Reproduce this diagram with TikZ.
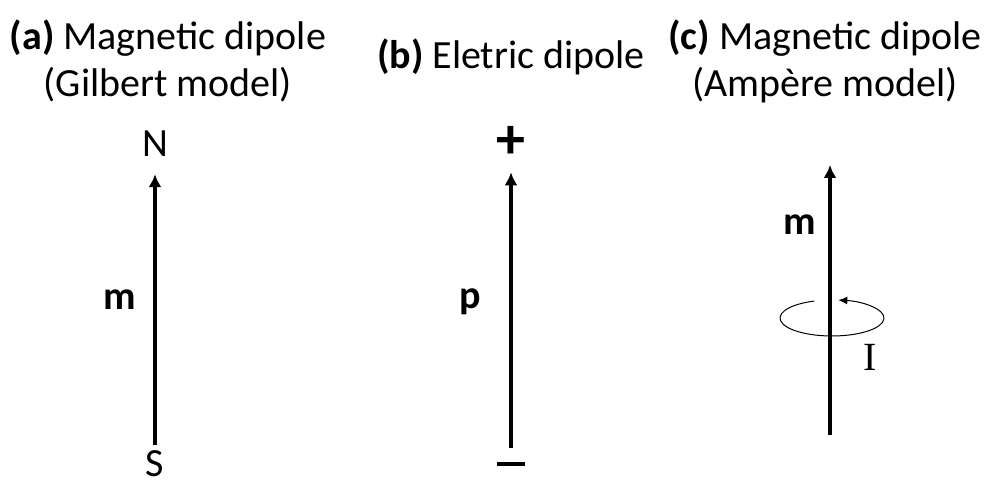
\documentclass[tikz,border=0pt]{standalone}
\usepackage{fontspec}
\setmainfont{Carlito}
\newfontfamily\serifI{Liberation Serif}
\usetikzlibrary{arrows.meta, positioning}

\begin{document}
\begin{tikzpicture}[x=1pt, y=1pt, >=Latex,
    every node/.style={font=\fontsize{40}{47}\selectfont},
    title/.style={align=center},
    pole/.style={inner sep=0pt},
    dipole/.style={line width=4.5pt, -{Latex[length=13pt,width=13pt]}},
    loop/.style={line width=1pt, -{Latex[length=9pt,width=8pt]}}]
    \useasboundingbox (0,0) rectangle (990,482);

    % Titles
    \node[title] (ta) at (168,421) {\textbf{(a)} Magnetic dipole\\(Gilbert model)};
    \node[title] (tb) at (511,425) {\textbf{(b)} Eletric dipole};
    \node[title] (tc) at (825,421) {\textbf{(c)} Magnetic dipole\\(Ampère model)};

    % Nodes
    \node[pole, anchor=base] (north) at (155,325) {N};
    \node[pole, anchor=base] (south) at (155,6) {S};
    \node (ma) at (120,182) {\textbf{m}};
    \node[pole, font=\fontsize{58}{64}\selectfont\bfseries] (plus) at (511,340) {+};
    \node[pole] (minus) at (511,18) {\rule{28pt}{3.5pt}};
    \node (pb) at (470,180) {\textbf{p}};
    \coordinate (cbot) at (830,47);
    \coordinate (ctop) at (830,317);
    \node (mc) at (800,257) {\textbf{m}};
    \node (cur) at (870,125) {\serifI I};

    % Connections
    \draw[dipole, shorten <=5pt, shorten >=17pt] (south.north) -- (north.south);
    \draw[dipole, shorten <=14pt, shorten >=14pt] (minus.north) -- (plus.south);
    \draw[dipole] (cbot) -- (ctop);

    % Current loop
    \draw[loop] (832,164) ++(110:52 and 18) arc[start angle=110, end angle=443, x radius=52, y radius=18];

\end{tikzpicture}
\end{document}
